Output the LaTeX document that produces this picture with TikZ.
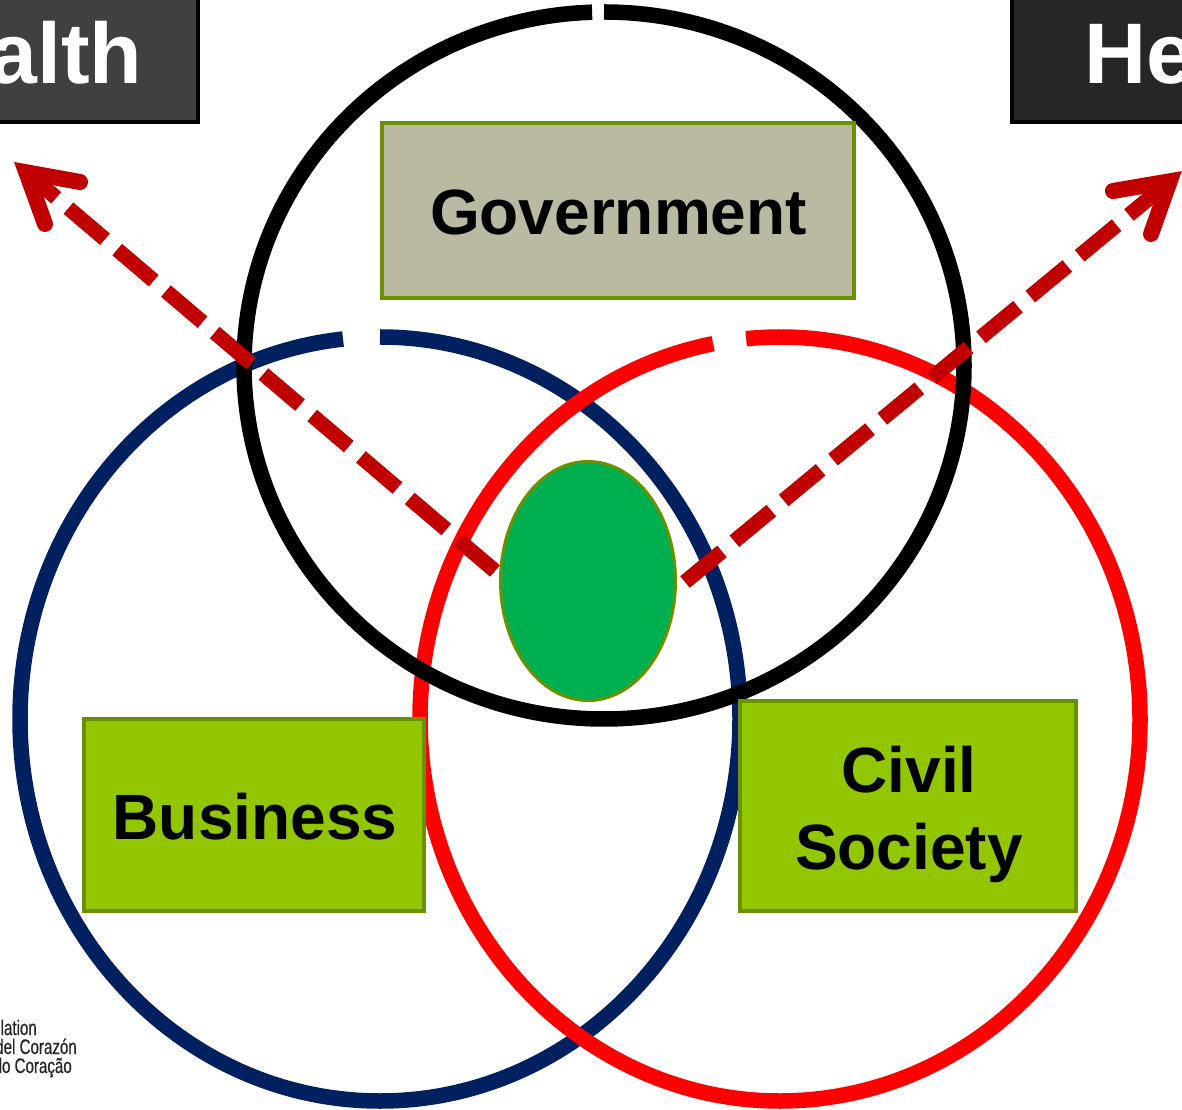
\documentclass[tikz,border=0pt]{standalone}
\usepackage{fontspec}
\setmainfont{Liberation Sans}
\newfontfamily\logofont[FakeStretch=0.72,FakeBold=0.6]{Liberation Sans}
\usetikzlibrary{shapes.geometric}
\definecolor{navyc}{RGB}{0,32,96}
\definecolor{redc}{RGB}{255,0,0}
\definecolor{darkredc}{RGB}{192,0,0}
\definecolor{boxgreen}{RGB}{146,198,0}
\definecolor{boxline}{RGB}{105,145,0}
\definecolor{tanc}{RGB}{186,186,163}
\definecolor{midgreen}{RGB}{0,176,80}
\definecolor{headl}{RGB}{64,64,64}
\definecolor{headr}{RGB}{38,38,38}
\tikzset{
  ring/.style={line width=15.5pt},
  labelbox/.style={draw=boxline,line width=3.5pt,fill=boxgreen,inner sep=0pt},
  boxtext/.style={inner sep=0pt,font=\fontsize{64}{77}\selectfont\bfseries,align=center,text=black},
  headbox/.style={draw=black,line width=3.5pt,inner sep=0pt,outer sep=0pt},
  headtext/.style={inner sep=0pt,text=white,font=\fontsize{86}{90}\selectfont\bfseries},
  logotext/.style={inner sep=0pt,text=black!85,font=\logofont\fontsize{21}{21}\selectfont,anchor=base east},
  flow/.style={draw=darkredc,line width=15pt,dash pattern=on 48pt off 16pt},
  tiphead/.style={draw=darkredc,line width=16pt,line cap=round,line join=miter,miter limit=10},
}
\begin{document}
\begin{tikzpicture}[x=1pt,y=1pt]
\useasboundingbox (0,0) rectangle (1182,1109);
\clip (0,0) rectangle (1182,1109);
% rings
\draw[ring,navyc] (380,390) ++(90:360 and 382) arc[start angle=90,end angle=-264.1,x radius=360,y radius=382];
\draw[ring,redc] (780,390) ++(95.4:360 and 382) arc[start angle=95.4,end angle=-259.3,x radius=360,y radius=382];
\draw[ring,black] (604,743.5) ++(90:360 and 353.5) arc[start angle=90,end angle=-268.1,x radius=360,y radius=353.5];
% boxes
\node[labelbox,fill=tanc,minimum width=472,minimum height=175] (gov) at (618,898.5) {};
\node[labelbox,minimum width=340,minimum height=192] (bus) at (254,294) {};
\node[labelbox,minimum width=336,minimum height=210] (civ) at (908,303) {};
\node[boxtext] (govt) at ([xshift=0.5pt,yshift=-2pt]gov.center) {Government};
\node[boxtext] (bust) at ([xshift=1pt,yshift=-2pt]bus.center) {Business};
\node[boxtext] (civt) at ([xshift=1pt,yshift=-8pt]civ.center) {Civil\\Society};
% heads
\node[headbox,fill=headl,minimum width=237,minimum height=147,anchor=south east] (hl) at (198,987) {};
\node[headbox,fill=headr,minimum width=237,minimum height=147,anchor=south west] (hr) at (1012,987) {};
\node[headtext,anchor=base east] (hlt) at (142.5,1025) {alth};
\node[headtext,anchor=base west] (hrt) at (1084,1025) {He};
% centre
\node[ellipse,draw=boxline,line width=3pt,fill=midgreen,minimum width=175,minimum height=239,inner sep=0pt] (hub) at (588,528) {};
% arrows
\coordinate (ls) at (495,538);
\coordinate (lv) at (26.3,936.7);
\coordinate (la) at (80,927);
\coordinate (lb) at (45,885);
\coordinate (rs) at (685,527);
\coordinate (rv) at (1169.7,927.7);
\coordinate (ra) at (1113,918);
\coordinate (rb) at (1151,875);
\draw[flow] (ls) -- (lv);
\draw[flow] (rs) -- (rv);
\draw[tiphead] (la) -- (lv) -- (lb);
\draw[tiphead] (ra) -- (rv) -- (rb);
% logo text
\node[logotext] (l1) at (37,74) {lation};
\node[logotext] (l2) at (77,55) {del Corazón};
\node[logotext] (l3) at (72,36) {do Coração};
\end{tikzpicture}
\end{document}
